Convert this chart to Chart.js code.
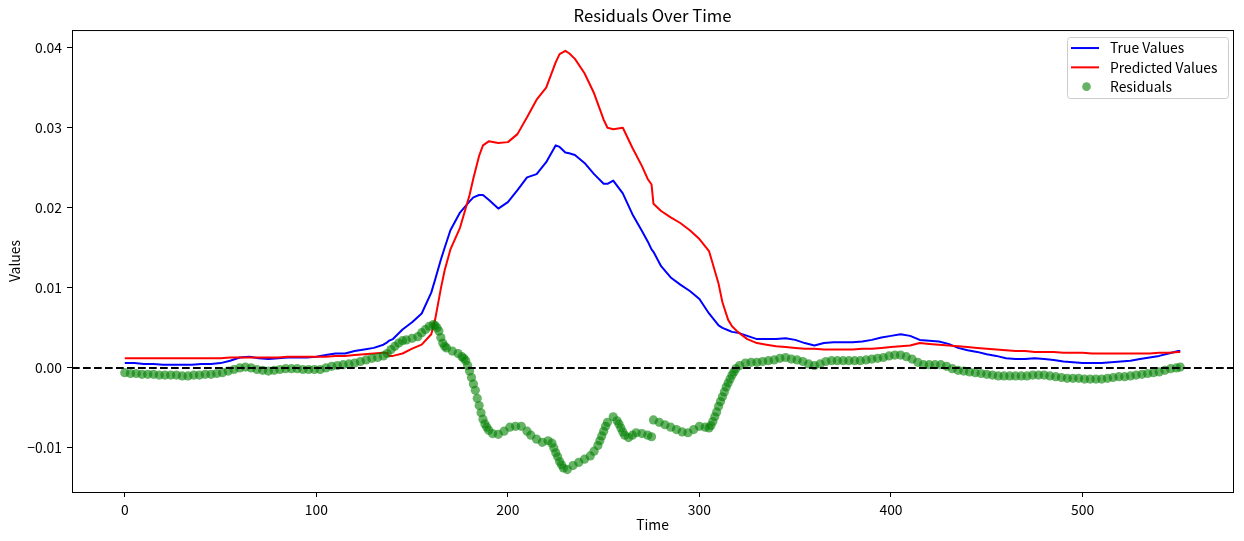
<!DOCTYPE html>
<html>
<head>
<meta charset="utf-8">
<script src="https://cdn.jsdelivr.net/npm/chart.js@4.4.1/dist/chart.umd.min.js"></script>
<style>
  body { margin: 0; background: #fff; }
  canvas { display: block; }
</style>
</head>
<body>
<canvas id="residualChart" width="1244" height="541"></canvas>
<script>
// Time steps for the two lines (extra steps where the curves bend sharply)
const lineTime = [
    0, 5, 10, 15, 20, 25, 30, 35, 40, 45,
    50, 55, 60, 65, 70, 75, 80, 85, 90, 95,
    100, 105, 110, 115, 120, 125, 130, 135, 137, 138,
    140, 145, 150, 155, 160, 162, 165, 167, 170, 175,
    180, 182, 185, 187, 190, 195, 200, 205, 210, 215,
    220, 225, 227, 230, 232, 235, 240, 245, 250, 252,
    255, 260, 265, 270, 273, 275, 276, 280, 285, 290,
    295, 300, 305, 310, 312, 315, 317, 320, 325, 330,
    335, 340, 345, 350, 355, 360, 365, 370, 375, 380,
    385, 390, 395, 400, 405, 410, 415, 420, 425, 430,
    435, 440, 445, 450, 455, 460, 465, 470, 475, 480,
    485, 490, 495, 500, 505, 510, 515, 520, 525, 530,
    535, 540, 545, 550, 551
];

const trueValues = [
    0.0006, 0.0006, 0.0005, 0.0005, 0.0004, 0.0004, 0.0004, 0.0004, 0.0005, 0.0005,
    0.0006, 0.0009, 0.0013, 0.0014, 0.0012, 0.0011, 0.0012, 0.0013, 0.0013, 0.0013,
    0.0014, 0.0016, 0.0018, 0.0018, 0.0021, 0.0023, 0.0025, 0.0029, 0.0032, 0.0034,
    0.0036, 0.0048, 0.0057, 0.0068, 0.0094, 0.0110, 0.0135, 0.0150, 0.0172, 0.0194,
    0.0208, 0.0213, 0.0216, 0.0216, 0.0210, 0.0199, 0.0207, 0.0222, 0.0238, 0.0242,
    0.0257, 0.0278, 0.0276, 0.0269, 0.0268, 0.0266, 0.0256, 0.0242, 0.0230, 0.0230,
    0.0234, 0.0218, 0.0192, 0.0171, 0.0158, 0.0148, 0.0145, 0.0127, 0.0113, 0.0104,
    0.0096, 0.0086, 0.0068, 0.0053, 0.0050, 0.0047, 0.0045, 0.0044, 0.0040, 0.0036,
    0.0036, 0.0036, 0.0037, 0.0035, 0.0031, 0.0028, 0.0031, 0.0032, 0.0032, 0.0032,
    0.0033, 0.0035, 0.0038, 0.0040, 0.0042, 0.0040, 0.0035, 0.0034, 0.0033, 0.0030,
    0.0025, 0.0022, 0.0020, 0.0017, 0.0015, 0.0012, 0.0011, 0.0011, 0.0012, 0.0011,
    0.0010, 0.0008, 0.0007, 0.0006, 0.0006, 0.0006, 0.0007, 0.0008, 0.0009, 0.0011,
    0.0013, 0.0015, 0.0018, 0.0021, 0.0021
];

const predictedValues = [
    0.0012, 0.0012, 0.0012, 0.0012, 0.0012, 0.0012, 0.0012, 0.0012, 0.0012, 0.0012,
    0.0012, 0.0013, 0.0013, 0.0013, 0.0013, 0.0013, 0.0013, 0.0014, 0.0014, 0.0014,
    0.0014, 0.0014, 0.0015, 0.0015, 0.0016, 0.0017, 0.0018, 0.0019, 0.0019, 0.0015,
    0.0015, 0.0018, 0.0024, 0.0029, 0.0042, 0.0060, 0.0099, 0.0122, 0.0148, 0.0175,
    0.0216, 0.0237, 0.0265, 0.0278, 0.0283, 0.0281, 0.0282, 0.0292, 0.0313, 0.0335,
    0.0350, 0.0382, 0.0392, 0.0396, 0.0393, 0.0386, 0.0368, 0.0343, 0.0310, 0.0300,
    0.0298, 0.0300, 0.0275, 0.0252, 0.0236, 0.0229, 0.0205, 0.0196, 0.0188, 0.0181,
    0.0172, 0.0161, 0.0146, 0.0105, 0.0082, 0.0060, 0.0052, 0.0045, 0.0036, 0.0031,
    0.0029, 0.0027, 0.0026, 0.0025, 0.0024, 0.0024, 0.0023, 0.0023, 0.0023, 0.0023,
    0.0024, 0.0024, 0.0025, 0.0026, 0.0027, 0.0028, 0.0031, 0.0030, 0.0029, 0.0028,
    0.0027, 0.0026, 0.0025, 0.0024, 0.0023, 0.0022, 0.0021, 0.0021, 0.0020, 0.0020,
    0.0020, 0.0019, 0.0019, 0.0019, 0.0018, 0.0018, 0.0018, 0.0018, 0.0018, 0.0018,
    0.0018, 0.0019, 0.0019, 0.0020, 0.0020
];

// Residual scatter points (denser where the residual changes fast)
const residualTime = [
    0, 3, 6, 9, 12, 15, 18, 21, 24, 27,
    30, 33, 36, 39, 42, 45, 48, 51, 54, 57,
    60, 63, 66, 69, 72, 75, 78, 81, 84, 87,
    90, 93, 96, 99, 102, 105, 108, 111, 114, 117,
    120, 123, 126, 129, 132, 135, 137, 139, 141, 143,
    145, 147, 150, 153, 155, 157, 159, 161, 162, 163,
    164, 165, 166, 167, 168, 171, 174, 176, 177, 178,
    179, 180, 181, 182, 183, 184, 185, 186, 187, 188,
    189, 190, 192, 195, 198, 201, 204, 207, 210, 212,
    215, 218, 221, 223, 224, 225, 226, 227, 228, 229,
    231, 234, 237, 240, 243, 245, 247, 248, 249, 250,
    251, 252, 255, 257, 258, 259, 260, 261, 263, 265,
    267, 270, 273, 275, 276, 279, 282, 285, 288, 291,
    294, 297, 300, 303, 305, 306, 307, 308, 309, 310,
    311, 312, 313, 314, 315, 316, 317, 318, 319, 321,
    324, 327, 330, 333, 336, 339, 342, 345, 348, 351,
    354, 357, 360, 363, 366, 369, 372, 375, 378, 381,
    384, 387, 390, 393, 396, 399, 402, 405, 408, 411,
    414, 417, 420, 423, 426, 429, 432, 435, 438, 441,
    444, 447, 450, 453, 456, 459, 462, 465, 468, 471,
    474, 477, 480, 483, 486, 489, 492, 495, 498, 501,
    504, 507, 510, 513, 516, 519, 522, 525, 528, 531,
    534, 537, 540, 543, 546, 549, 551
];

const residualValues = [
    -0.0006, -0.0007, -0.0007, -0.0008, -0.0008, -0.0008, -0.0009, -0.0009, -0.0009, -0.0009,
    -0.0010, -0.0010, -0.0009, -0.0009, -0.0008, -0.0008, -0.0007, -0.0006, -0.0004, -0.0002,
    0.0000, 0.0001, 0.0000, -0.0002, -0.0003, -0.0004, -0.0003, -0.0002, -0.0001, -0.0001,
    -0.0001, -0.0002, -0.0002, -0.0002, -0.0002, 0.0000, 0.0002, 0.0003, 0.0004, 0.0005,
    0.0006, 0.0008, 0.0010, 0.0012, 0.0013, 0.0015, 0.0018, 0.0023, 0.0027, 0.0031,
    0.0034, 0.0035, 0.0037, 0.0039, 0.0044, 0.0048, 0.0052, 0.0054, 0.0053, 0.0050,
    0.0046, 0.0038, 0.0031, 0.0027, 0.0025, 0.0021, 0.0018, 0.0014, 0.0012, 0.0009,
    0.0003, -0.0004, -0.0012, -0.0020, -0.0028, -0.0038, -0.0047, -0.0056, -0.0064, -0.0070,
    -0.0074, -0.0078, -0.0082, -0.0083, -0.0079, -0.0074, -0.0073, -0.0073, -0.0079, -0.0084,
    -0.0089, -0.0093, -0.0091, -0.0094, -0.0100, -0.0106, -0.0111, -0.0117, -0.0121, -0.0125,
    -0.0127, -0.0122, -0.0118, -0.0114, -0.0110, -0.0104, -0.0097, -0.0091, -0.0085, -0.0079,
    -0.0073, -0.0068, -0.0061, -0.0066, -0.0070, -0.0075, -0.0080, -0.0084, -0.0087, -0.0084,
    -0.0081, -0.0082, -0.0084, -0.0086, -0.0065, -0.0068, -0.0071, -0.0074, -0.0077, -0.0080,
    -0.0081, -0.0077, -0.0073, -0.0074, -0.0075, -0.0072, -0.0067, -0.0061, -0.0055, -0.0048,
    -0.0042, -0.0036, -0.0030, -0.0024, -0.0019, -0.0014, -0.0009, -0.0005, -0.0001, 0.0003,
    0.0006, 0.0007, 0.0007, 0.0008, 0.0009, 0.0010, 0.0012, 0.0013, 0.0011, 0.0010,
    0.0008, 0.0005, 0.0003, 0.0005, 0.0008, 0.0009, 0.0009, 0.0009, 0.0009, 0.0009,
    0.0009, 0.0010, 0.0011, 0.0012, 0.0013, 0.0015, 0.0016, 0.0016, 0.0014, 0.0011,
    0.0007, 0.0004, 0.0004, 0.0004, 0.0004, 0.0002, -0.0001, -0.0003, -0.0004, -0.0005,
    -0.0006, -0.0007, -0.0008, -0.0009, -0.0010, -0.0010, -0.0010, -0.0010, -0.0010, -0.0010,
    -0.0009, -0.0009, -0.0009, -0.0010, -0.0011, -0.0012, -0.0013, -0.0013, -0.0013, -0.0014,
    -0.0014, -0.0014, -0.0014, -0.0013, -0.0012, -0.0011, -0.0011, -0.0010, -0.0009, -0.0008,
    -0.0007, -0.0006, -0.0005, -0.0003, -0.0001, 0.0000, 0.0001
];

const xTicks = [0, 100, 200, 300, 400, 500];
const yTicks = [-0.01, 0, 0.01, 0.02, 0.03, 0.04];
const yTickLabels = ["\u22120.01", "0.00", "0.01", "0.02", "0.03", "0.04"];

const fontFamily = "'Noto Sans CJK SC', sans-serif";
Chart.defaults.font.family = fontFamily;
Chart.defaults.font.size = 13.9;
Chart.defaults.color = "#000";

function toPoints(xs, ys) {
    return xs.map((x, i) => ({ x: x, y: ys[i] }));
}

// zero line, axes frame and the legend box
const extras = {
    id: "extras",
    afterDatasetsDraw(chart) {
        const { ctx, chartArea } = chart;
        const y0 = chart.scales.y.getPixelForValue(0);
        ctx.save();
        ctx.strokeStyle = "#000";
        ctx.lineWidth = 2;
        ctx.setLineDash([7.7, 3.3]);
        ctx.beginPath();
        ctx.moveTo(chartArea.left, y0);
        ctx.lineTo(chartArea.right, y0);
        ctx.stroke();
        ctx.setLineDash([]);
        ctx.lineWidth = 1;
        ctx.strokeRect(chartArea.left + 0.5, chartArea.top + 0.5,
            chartArea.right - chartArea.left, chartArea.bottom - chartArea.top);
        ctx.restore();
    },
    afterDraw(chart) {
        const { ctx, chartArea } = chart;
        const boxW = 161, boxH = 61;
        const bx = chartArea.right - boxW - 5, by = chartArea.top + 7.5;
        ctx.save();
        ctx.beginPath();
        ctx.roundRect(bx + 0.5, by, boxW, boxH, 3);
        ctx.fillStyle = "rgba(255,255,255,0.8)";
        ctx.fill();
        ctx.strokeStyle = "#cccccc";
        ctx.lineWidth = 1;
        ctx.stroke();

        ctx.font = "13.9px " + fontFamily;
        ctx.textBaseline = "middle";
        chart.data.datasets.forEach((ds, i) => {
            const cy = by + 10.5 + i * 19.3;
            if (ds.showLine) {
                ctx.strokeStyle = ds.borderColor;
                ctx.lineWidth = 2;
                ctx.beginPath();
                ctx.moveTo(bx + 4, cy);
                ctx.lineTo(bx + 32, cy);
                ctx.stroke();
            } else {
                ctx.fillStyle = ds.pointBackgroundColor;
                ctx.beginPath();
                ctx.arc(bx + 19.5, cy, 4.3, 0, Math.PI * 2);
                ctx.fill();
            }
            ctx.fillStyle = "#000";
            ctx.fillText(ds.label, bx + 43, cy);
        });
        ctx.restore();
    }
};

const ctx = document.getElementById("residualChart").getContext("2d");
new Chart(ctx, {
    type: "scatter",
    data: {
        datasets: [
            {
                label: "True Values",
                data: toPoints(lineTime, trueValues),
                showLine: true,
                borderColor: "#0000ff",
                borderWidth: 2,
                borderJoinStyle: "round",
                pointRadius: 0,
                pointHoverRadius: 0,
                tension: 0,
                order: 3
            },
            {
                label: "Predicted Values",
                data: toPoints(lineTime, predictedValues),
                showLine: true,
                borderColor: "#ff0000",
                borderWidth: 2,
                borderJoinStyle: "round",
                pointRadius: 0,
                pointHoverRadius: 0,
                tension: 0,
                order: 2
            },
            {
                label: "Residuals",
                data: toPoints(residualTime, residualValues),
                showLine: false,
                pointRadius: 4.6,
                pointBackgroundColor: "rgba(0,128,0,0.6)",
                pointBorderWidth: 0,
                order: 1
            }
        ]
    },
    options: {
        responsive: false,
        animation: false,
        devicePixelRatio: 1,
        layout: { padding: { left: 0, right: 11, top: 0, bottom: 0 } },
        plugins: {
            legend: { display: false },
            tooltip: { enabled: false },
            title: {
                display: true,
                text: "Residuals Over Time",
                fullSize: false,
                color: "#000",
                font: { size: 16.7, weight: "normal" },
                padding: { top: 6, bottom: 4 }
            }
        },
        scales: {
            x: {
                type: "linear",
                min: -27.55,
                max: 578.55,
                afterBuildTicks: (s) => { s.ticks = xTicks.map(v => ({ value: v })); },
                afterFit: (s) => { s.height = 49; },
                grid: { drawOnChartArea: false, drawTicks: true, tickLength: 5, color: "#000" },
                border: { display: false },
                ticks: { padding: 4, maxRotation: 0, autoSkip: false, callback: (v) => String(v) },
                title: { display: true, text: "Time", padding: { top: 0, bottom: 8 } }
            },
            y: {
                type: "linear",
                min: -0.0155,
                max: 0.0422,
                afterBuildTicks: (s) => { s.ticks = yTicks.map(v => ({ value: v })); },
                afterFit: (s) => { s.width = 72; },
                grid: { drawOnChartArea: false, drawTicks: true, tickLength: 5, color: "#000" },
                border: { display: false },
                ticks: { padding: 5, callback: (v, i) => yTickLabels[i] },
                title: { display: true, text: "Values", padding: { top: 6, bottom: 0 } }
            }
        }
    },
    plugins: [extras]
});
</script>
</body>
</html>
